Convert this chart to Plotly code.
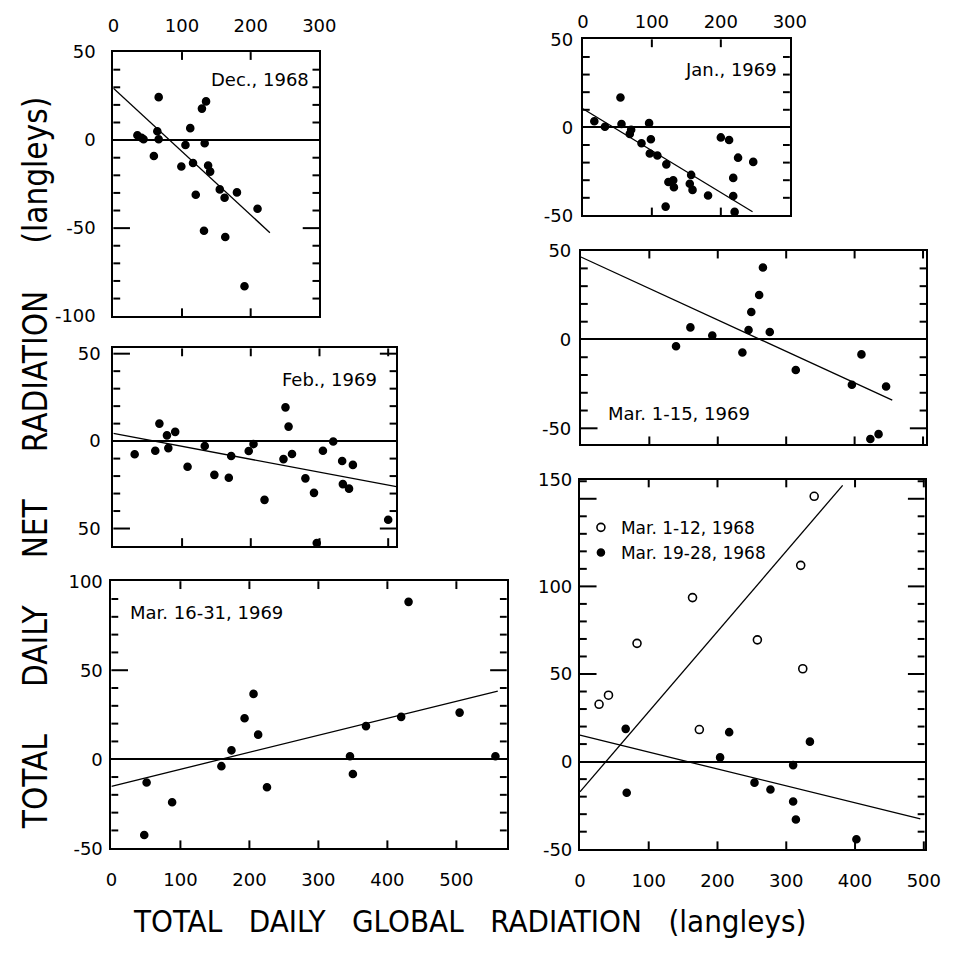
import plotly.graph_objects as go

# ---- data: total daily global radiation (x) vs total daily net radiation (y), langleys ----
dec68_x = [35, 41, 44, 66, 64, 66, 59, 112, 105, 99, 116, 129, 135, 133, 138, 141,
           120, 155, 162, 180, 210, 132, 163, 191]
dec68_y = [2.8, 1.3, 0.5, 24.4, 5, 0.5, -9, 6.8, -2.8, -15, -13, 17.9, 22, -1.8, -14.4,
           -17.9, -31, -28, -32.7, -29.7, -39, -51.5, -55, -83]

jan69_x = [16.6, 32, 54.5, 56, 70, 68, 96, 85, 98.6, 97, 108, 121, 124, 131, 132, 120,
           157, 155, 159, 181.5, 200, 212, 225, 247, 218, 218, 220]
jan69_y = [3.5, 0.4, 17, 1.9, -1.3, -3.7, 2.4, -9, -6.7, -14.8, -16, -21, -31, -30, -34,
           -45, -27, -32, -35.5, -38.7, -5.7, -7.2, -17.2, -19.6, -28.7, -39, -48]

feb69_x = [31, 61, 67, 78, 80, 90, 108, 133, 147, 168, 171.5, 197, 204, 220, 250.5, 255,
           247.6, 260, 279.5, 292, 296, 305, 320, 333, 334, 343, 348.6, 400]
feb69_y = [-7.5, -5.5, 10, 3.3, -4, 5.3, -14.7, -2.8, -19.3, -21, -8.5, -5.7, -1.7, -33.6,
           19.3, 8.3, -10.3, -7.4, -21.3, -29.6, -58.3, -5.5, -0.2, -11.4, -24.6, -27.2,
           -13.6, -45]

mar1_15_69_x = [139, 160, 192, 236, 245, 249, 260.5, 266, 276, 314, 396, 410, 446, 423, 435]
mar1_15_69_y = [-3.8, 6.8, 2.2, -7.3, 5.3, 15.5, 25, 40.5, 4.2, -17.2, -25.5, -8.4, -26.5,
                -56, -53.3]

mar16_31_69_x = [51, 88, 159.4, 174, 193, 206, 212.7, 225.5, 345.8, 350, 369, 420, 430.7,
                 504.7, 556.6, 47.6]
mar16_31_69_y = [-13.1, -24.2, -3.9, 5, 23, 36.7, 13.8, -15.7, 1.7, -8.3, 18.6, 23.8, 88.4,
                 26.2, 1.7, -42.6]

mar1_12_68_x = [27.8, 41.5, 83, 163.7, 173.6, 258, 321, 324, 340.6]
mar1_12_68_y = [32.7, 37.9, 67.5, 93.6, 18.3, 69.5, 112, 53, 151.4]

mar19_28_68_x = [66.5, 68, 203.8, 217, 253.8, 277, 310, 310, 334.4, 314, 402]
mar19_28_68_y = [18.7, -17.8, 2.4, 16.8, -12, -15.9, -2, -22.8, 11.4, -33, -44.3]

# fitted lines: (intercept, slope, x_start, x_end)
fit_dec68 = (29.5, -0.36, 0, 228)
fit_jan69 = (10.6, -0.238, 0, 246)
fit_feb69 = (4.4, -0.074, 0, 412)
fit_mar1_15_69 = (46.4, -0.177, 0, 455)
fit_mar16_31_69 = (-15.2, 0.0955, 0, 560)
fit_mar1_12_68 = (-17.3, 0.458, 0, 382)
fit_mar19_28_68 = (15.1, -0.0966, 0, 495)

panel_titles = ["Dec., 1968", "Jan., 1969", "Feb., 1969", "Mar. 1-15, 1969",
                "Mar. 16-31, 1969"]

# ---- layout helpers (pixel boxes on a 962 x 958 page) ----
W, H = 962, 958
FONT = "DejaVu Sans"


def xdom(a, b):
    return [a / W, b / W]


def ydom(top, bottom):
    return [1 - bottom / H, 1 - top / H]


def xid(n):
    return "x" if n == 1 else f"x{n}"


def yid(n):
    return "y" if n == 1 else f"y{n}"


fig = go.Figure()


def add_points(n, xs, ys, symbol="circle", name=None, showlegend=False, size=7):
    fig.add_trace(go.Scatter(
        x=xs, y=ys, mode="markers", xaxis=xid(n), yaxis=yid(n),
        name=name, showlegend=showlegend,
        marker=dict(symbol=symbol, size=size, color="black",
                    line=dict(color="black", width=1.6)),
    ))


def add_fit(n, fit):
    b0, b1, xa, xb = fit
    fig.add_trace(go.Scatter(
        x=[xa, xb], y=[b0 + b1 * xa, b0 + b1 * xb], mode="lines",
        xaxis=xid(n), yaxis=yid(n), showlegend=False,
        line=dict(color="black", width=1.3),
    ))


add_points(1, dec68_x, dec68_y)
add_fit(1, fit_dec68)
add_points(2, jan69_x, jan69_y)
add_fit(2, fit_jan69)
add_points(3, feb69_x, feb69_y)
add_fit(3, fit_feb69)
add_points(4, mar1_15_69_x, mar1_15_69_y)
add_fit(4, fit_mar1_15_69)
add_points(5, mar16_31_69_x, mar16_31_69_y)
add_fit(5, fit_mar16_31_69)
add_points(6, mar1_12_68_x, mar1_12_68_y, symbol="circle-open", name="Mar. 1-12, 1968",
           showlegend=True, size=8)
add_points(6, mar19_28_68_x, mar19_28_68_y, name="Mar. 19-28, 1968", showlegend=True)
add_fit(6, fit_mar1_12_68)
add_fit(6, fit_mar19_28_68)

# panel boxes (left, right, top, bottom) in px, axis ranges, tick labels
panels = {
    1: dict(box=(110, 321, 42, 312), xr=[0, 300], yr=[-100, 50], xside="top",
            yt=[50, 0, -50, -100], ytt=["50", "0", "-50", "-100"], xstand=11, ystand=12),
    2: dict(box=(591, 803, 29, 209), xr=[0, 300], yr=[-50, 50], xside="top",
            yt=[50, 0, -50], ytt=["50", "0", "-50"], xstand=2, ystand=4),
    3: dict(box=(110, 400, 345, 547), xr=[0, 412], yr=[-60, 53], xside=None,
            yt=[50, 0, -50], ytt=["50", "0", "50"], xstand=0, ystand=7),
    4: dict(box=(589, 943, 245, 443), xr=[0, 505], yr=[-59, 50], xside=None,
            yt=[50, 0, -50], ytt=["50", "0", "-50"], xstand=0, ystand=4),
    5: dict(box=(108, 513, 583, 856), xr=[0, 573], yr=[-50, 100], xside="bottom",
            yt=[100, 50, 0, -50], ytt=["100", "50", "0", "-50"], xstand=14, ystand=3),
    6: dict(box=(588, 941, 479, 857), xr=[0, 501], yr=[-50, 161], xside="bottom",
            yt=[161, 100, 50, 0, -50], ytt=["150", "100", "50", "0", "-50"], xstand=14,
            ystand=2),
}

X_TICK_VALUES = [0, 100, 200, 300, 400, 500]
X_TICK_TEXT = ["0", "100", "200", "300", "400", "500"]
MAJOR_LEN, MINOR_LEN, X_LEN = 17, 7, 8   # inward tick lengths in px

tickfont = dict(family=FONT, size=18, color="black")
layout_axes = {}
shapes = []
tick_line = dict(color="black", width=2)
for n, p in panels.items():
    l, r, t, b = p["box"]
    w_px, h_px = r - l, b - t
    xlo, xhi = p["xr"]
    ylo, yhi = p["yr"]
    xa = dict(
        domain=xdom(l, r), range=p["xr"], anchor=yid(n),
        showline=True, linecolor="black", linewidth=2, mirror=True, ticks="",
        tickmode="array", tickvals=X_TICK_VALUES, ticktext=X_TICK_TEXT,
        showgrid=False, zeroline=False, tickfont=tickfont,
        showticklabels=p["xside"] is not None,
        side=p["xside"] or "bottom", ticklabelstandoff=p["xstand"],
    )
    ya = dict(
        domain=ydom(t, b), range=p["yr"], anchor=xid(n),
        showline=True, linecolor="black", linewidth=2, mirror=True, ticks="",
        tickmode="array", tickvals=p["yt"], ticktext=p["ytt"],
        showgrid=False, zeroline=True, zerolinecolor="black", zerolinewidth=1.8,
        tickfont=tickfont, ticklabelstandoff=p["ystand"],
    )
    key = "" if n == 1 else str(n)
    layout_axes[f"xaxis{key}"] = xa
    layout_axes[f"yaxis{key}"] = ya

    # inward tick marks on all four sides, placed on the page from the axis scale
    for v in range(-100, 170, 10):
        if not (ylo < v < yhi) or v == 0:
            continue
        py = b - (v - ylo) / (yhi - ylo) * h_px
        ln = MAJOR_LEN if v % 50 == 0 else MINOR_LEN
        for xa_px, xb_px in ((l, l + ln), (r - ln, r)):
            shapes.append(dict(type="line", xref="paper", yref="paper", layer="above",
                               x0=xa_px / W, x1=xb_px / W, y0=1 - py / H, y1=1 - py / H,
                               line=tick_line))
    for v in X_TICK_VALUES:
        if not (xlo < v < xhi):
            continue
        px = l + (v - xlo) / (xhi - xlo) * w_px
        for ya_px, yb_px in ((b, b - X_LEN), (t + X_LEN, t)):
            shapes.append(dict(type="line", xref="paper", yref="paper", layer="above",
                               x0=px / W, x1=px / W, y0=1 - ya_px / H, y1=1 - yb_px / H,
                               line=tick_line))

fig.update_layout(**layout_axes)

# panel captions
caption_pos = [(260, 70), (743, 60), (331, 377), (689, 412), (205, 615)]
annotations = []
for text, (cx, cy) in zip(panel_titles, caption_pos):
    annotations.append(dict(
        text=text, x=cx / W, y=1 - cy / H, xref="paper", yref="paper",
        showarrow=False, xanchor="center", yanchor="middle",
        font=dict(family=FONT, size=18, color="black"),
    ))

xgap = "\u00a0\u00a0\u00a0"
ygap = "\u00a0\u00a0\u00a0\u00a0\u00a0"
annotations.append(dict(
    text=xgap.join(["TOTAL", "DAILY", "GLOBAL", "RADIATION", "(langleys)"]),
    x=475 / W, y=1 - 930 / H, xref="paper", yref="paper", showarrow=False,
    xanchor="center", yanchor="middle",
    font=dict(family="DejaVu Sans Condensed", size=31, color="black"),
))
annotations.append(dict(
    text=ygap.join(["TOTAL", "DAILY", "NET", "RADIATION", "(langleys)"]),
    x=31 / W, y=1 - 462 / H, xref="paper", yref="paper", showarrow=False,
    xanchor="center", yanchor="middle", textangle=-90,
    font=dict(family="DejaVu Sans Condensed", size=33, color="black"),
))

fig.update_layout(
    width=W, height=H,
    margin=dict(l=0, r=0, t=0, b=0),
    paper_bgcolor="white", plot_bgcolor="white",
    annotations=annotations,
    shapes=shapes,
    legend=dict(
        x=589 / W, y=1 - 510 / H, xanchor="left", yanchor="top",
        bgcolor="rgba(0,0,0,0)", borderwidth=0,
        font=dict(family=FONT, size=17, color="black"),
        itemwidth=30, tracegroupgap=0,
    ),
)

fig.write_html("out.html")
